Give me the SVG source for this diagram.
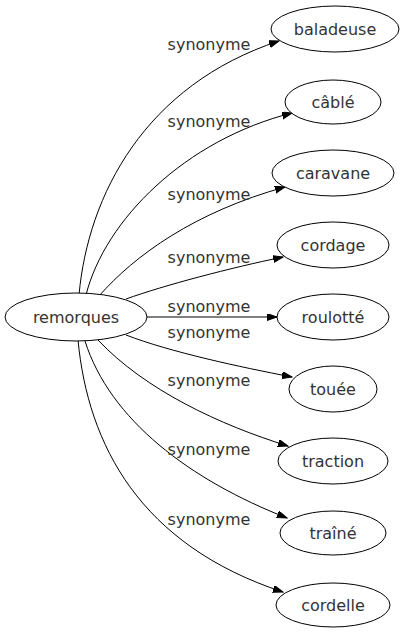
<svg xmlns="http://www.w3.org/2000/svg" width="404" height="635" viewBox="0 0 404 635">
<defs>
<style>
.node ellipse{fill:#fff;stroke:#000;stroke-width:1}
.node text{font-family:"DejaVu Sans",sans-serif;font-size:16px;fill:#333;text-anchor:middle}
.edges path{fill:none;stroke:#000;stroke-width:1}
.edges text{font-family:"DejaVu Sans",sans-serif;font-size:16px;fill:#333;text-anchor:middle}
</style>
<marker id="arr" markerUnits="userSpaceOnUse" markerWidth="11" markerHeight="8" refX="10" refY="3.5" orient="auto">
<path d="M0,0 L10,3.5 L0,7 z" fill="#000" stroke="#000" stroke-width="1"/>
</marker>
</defs>
<rect width="404" height="635" fill="#fff"/>
<g class="edges" id="edges">
<path marker-end="url(#arr)" d="M79,295 C88,195 145,85 279,41"/>
<text x="209" y="50">synonyme</text>
<path marker-end="url(#arr)" d="M86,295 C105,220 185,140 292,113"/>
<text x="209" y="127">synonyme</text>
<path marker-end="url(#arr)" d="M99,296 C135,255 195,212 285,187"/>
<text x="209" y="200">synonyme</text>
<path marker-end="url(#arr)" d="M126,299 C165,285 230,268 283,257"/>
<text x="209" y="263">synonyme</text>
<path marker-end="url(#arr)" d="M147,317 L277,317"/>
<text x="209" y="312">synonyme</text>
<path marker-end="url(#arr)" d="M126,335 C170,352 240,367 292,377"/>
<text x="209" y="338">synonyme</text>
<path marker-end="url(#arr)" d="M98,340 C145,390 220,425 288,446"/>
<text x="209" y="386">synonyme</text>
<path marker-end="url(#arr)" d="M85,341 C110,420 190,480 287,518"/>
<text x="209" y="455">synonyme</text>
<path marker-end="url(#arr)" d="M78,340 C88,445 140,545 283,592"/>
<text x="209" y="525">synonyme</text>
</g>
<g class="node" id="remorques"><ellipse cx="76" cy="317" rx="71" ry="24"/><text x="76" y="323">remorques</text></g>
<g class="node" id="baladeuse"><ellipse cx="335" cy="29" rx="64" ry="23"/><text x="335" y="35">baladeuse</text></g>
<g class="node" id="cable"><ellipse cx="333" cy="102" rx="48" ry="22"/><text x="333" y="108">câblé</text></g>
<g class="node" id="caravane"><ellipse cx="333" cy="173" rx="61" ry="23"/><text x="333" y="179">caravane</text></g>
<g class="node" id="cordage"><ellipse cx="333" cy="245" rx="56" ry="23"/><text x="333" y="251">cordage</text></g>
<g class="node" id="roulotte"><ellipse cx="333" cy="317" rx="56" ry="23"/><text x="333" y="323">roulotté</text></g>
<g class="node" id="touee"><ellipse cx="333" cy="389" rx="44" ry="23"/><text x="333" y="395">touée</text></g>
<g class="node" id="traction"><ellipse cx="333" cy="461" rx="55" ry="23"/><text x="333" y="467">traction</text></g>
<g class="node" id="traine"><ellipse cx="333" cy="533" rx="53" ry="22"/><text x="333" y="539">traîné</text></g>
<g class="node" id="cordelle"><ellipse cx="333" cy="605" rx="57" ry="22"/><text x="333" y="611">cordelle</text></g>
</svg>
